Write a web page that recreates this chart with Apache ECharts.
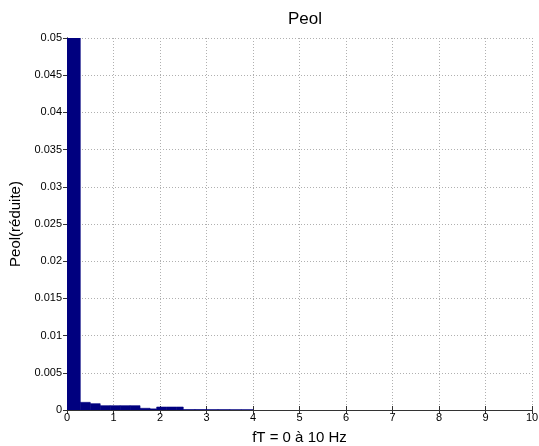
<!DOCTYPE html>
<html><head><meta charset="utf-8">
<script src="https://cdn.jsdelivr.net/npm/echarts@6/dist/echarts.min.js"></script>
<style>html,body{margin:0;padding:0;background:#fff}#c{width:539px;height:446px}</style>
</head><body><div id="c"></div>
<script>
var binLeft  = [0,    0.286, 0.5,    0.714,  0.929,  1.143,  1.357,  1.571,  1.786,  1.929, 2.143, 2.357, 2.5,    2.75,   3.0,    3.25,   3.5,    3.75];
var binRight = [0.286,0.5,   0.714,  0.929,  1.143,  1.357,  1.571,  1.786,  1.929,  2.143, 2.357, 2.5,   2.75,   3.0,    3.25,   3.5,    3.75,   4.0];
var heights  = [0.12, 0.00103,0.00085,0.00058,0.00058,0.00058,0.00058,0.00023,0.00015,0.0004,0.0004,0.0004,0.00006,0.00006,0.00005,0.00005,0.00004,0.00004];
var xTicks = [0,1,2,3,4,5,6,7,8,9,10];
var yTicks = [0,0.005,0.01,0.015,0.02,0.025,0.03,0.035,0.04,0.045,0.05];
var titleText = 'Peol';
var xName = 'fT = 0 à 10 Hz';
var yName = 'Peol(réduite)';

var data = binLeft.map(function(l,i){return [l, binRight[i], heights[i]];});
var font = 'Liberation Sans, Arial, sans-serif';
var chart = echarts.init(document.getElementById('c'), null, {renderer:'canvas'});
var gridLine = {show:true, lineStyle:{color:'#b0b0b0', type:[1,2], width:1}};
chart.setOption({
  backgroundColor:'#fff',
  animation:false,
  title:{text:titleText, left:300, top:6, textAlign:'center', textStyle:{fontFamily:font, fontSize:17, fontWeight:'normal', color:'#000'}},
  grid:{left:67, right:7, top:38, bottom:36, containLabel:false, outerBoundsMode:'none'},
  xAxis:[{type:'value', min:0, max:10, interval:1, position:'bottom',
    name:xName, nameLocation:'middle', nameGap:20, nameTextStyle:{fontFamily:font, fontSize:15, color:'#000'},
    axisLine:{show:true, lineStyle:{color:'#333'}}, axisTick:{show:true, inside:true, length:4, lineStyle:{color:'#333'}},
    axisLabel:{fontFamily:font, fontSize:11, color:'#000', margin:2}, splitLine:gridLine},
   {type:'value', min:0, max:10, interval:1, position:'top',
    axisLine:{show:true, lineStyle:{color:'#333'}}, axisTick:{show:true, inside:true, length:4, lineStyle:{color:'#333'}},
    axisLabel:{show:false}, splitLine:{show:false}}],
  yAxis:[{type:'value', min:0, max:0.05, interval:0.005, position:'left',
    name:yName, nameLocation:'middle', nameGap:38, nameRotate:90, nameTextStyle:{fontFamily:font, fontSize:15, color:'#000'},
    axisLine:{show:true, lineStyle:{color:'#333'}}, axisTick:{show:true, inside:true, length:4, lineStyle:{color:'#333'}},
    axisLabel:{fontFamily:font, fontSize:11, color:'#000', margin:5, formatter:function(v){return String(+v.toFixed(3));}}, splitLine:gridLine},
   {type:'value', min:0, max:0.05, interval:0.005, position:'right',
    axisLine:{show:true, lineStyle:{color:'#333'}}, axisTick:{show:true, inside:true, length:4, lineStyle:{color:'#333'}},
    axisLabel:{show:false}, splitLine:{show:false}}],
  series:[{type:'custom', clip:true, xAxisIndex:0, yAxisIndex:0,
    encode:{x:[0,1], y:2},
    data:data,
    renderItem:function(params, api){
      var p0 = api.coord([api.value(0), 0]);
      var p1 = api.coord([api.value(1), api.value(2)]);
      var rect = {x:p0[0], y:p1[1], width:p1[0]-p0[0], height:p0[1]-p1[1]};
      var cs = params.coordSys;
      var clipped = echarts.graphic.clipRectByRect(rect, {x:cs.x, y:cs.y, width:cs.width, height:cs.height});
      if(!clipped) return;
      return {type:'rect', shape:clipped, style:{fill:'#00007f', stroke:'#00007f', lineWidth:0.6}};
    }
  }]
});
</script></body></html>
